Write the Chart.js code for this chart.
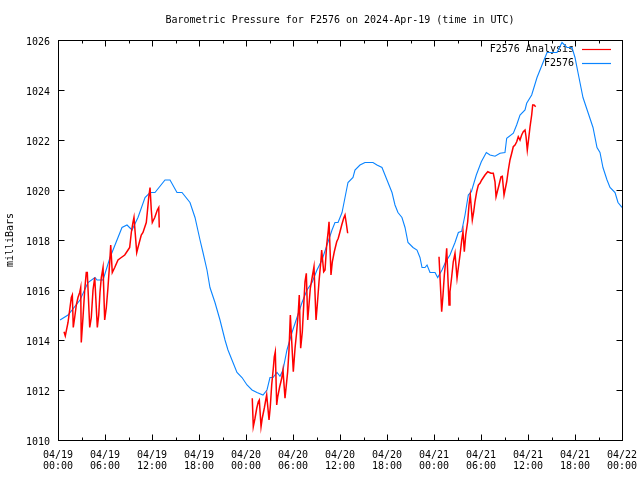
<!DOCTYPE html>
<html>
<head>
<meta charset="utf-8">
<script src="https://cdn.jsdelivr.net/npm/chart.js@4/dist/chart.umd.min.js"></script>
<style>
  html, body { margin: 0; padding: 0; background: #fff; }
  #c { display: block; }
</style>
</head>
<body>
<canvas id="c" width="640" height="480"></canvas>
<script>
// ---- DATA (hours since 2024-04-19 00:00 UTC) ----
const chartTitle = "Barometric Pressure for F2576 on 2024-Apr-19 (time in UTC)";
const yAxisTitle = "milliBars";
const seriesNames = ["F2576 Analysis", "F2576"];

const xTickLabels = [
  ["04/19","00:00"],["04/19","06:00"],["04/19","12:00"],["04/19","18:00"],
  ["04/20","00:00"],["04/20","06:00"],["04/20","12:00"],["04/20","18:00"],
  ["04/21","00:00"],["04/21","06:00"],["04/21","12:00"],["04/21","18:00"],
  ["04/22","00:00"]
];

// F2576 Analysis (red), three segments separated by null gaps
const analysisHours = [
  0.77,0.93,1.28,1.49,1.70,1.83,1.95,2.13,2.34,2.55,2.77,2.90,2.97,3.19,3.41,3.61,3.74,
  4.05,4.25,4.47,4.69,5.02,5.20,5.36,5.53,5.75,5.96,6.17,6.38,6.60,6.73,6.93,7.24,7.66,
  8.08,8.52,8.94,9.15,9.36,9.57,9.70,10.05,10.21,10.63,10.85,11.27,11.40,11.58,11.75,
  11.91,12.04,12.35,12.68,12.86,12.93,
  18.0,
  24.80,24.93,25.15,25.37,25.57,25.70,25.92,26.08,26.34,26.52,26.64,26.94,27.10,27.28,
  27.49,27.61,27.74,27.92,28.05,28.30,28.56,28.72,28.98,29.15,29.32,29.49,29.66,30.04,
  30.26,30.47,30.68,30.80,30.98,31.19,31.37,31.53,31.70,31.88,32.04,32.21,32.46,32.68,
  32.94,33.10,33.32,33.57,33.66,33.92,34.09,34.30,34.51,34.60,34.85,35.02,35.27,35.58,
  35.78,36.00,36.22,36.47,36.64,36.80,36.98,
  42.0,
  48.64,48.89,48.98,49.15,49.32,49.49,49.62,49.92,50.04,50.26,50.46,50.68,50.94,51.10,
  51.32,51.54,51.70,51.87,52.05,52.30,52.47,52.63,52.89,53.07,53.23,53.45,53.66,53.87,
  54.09,54.51,54.86,55.28,55.57,55.79,55.92,56.08,56.30,56.55,56.72,56.94,57.06,57.28,
  57.49,57.70,57.92,58.12,58.34,58.56,58.76,58.98,59.19,59.40,59.62,59.75,59.91,60.04,
  60.26,60.47,60.60,60.77,60.98
];
const analysisValues = [
  1014.33,1014.16,1014.7,1015.2,1015.7,1015.8,1014.5,1014.9,1015.4,1015.7,1015.9,1016.1,1013.9,1014.9,1016.0,1016.7,1016.7,
  1014.5,1014.9,1016.0,1016.5,1014.5,1015.0,1015.9,1016.5,1016.9,1014.8,1015.3,1016.1,1017.1,1017.8,1016.7,1016.9,1017.2,
  1017.3,1017.4,1017.6,1017.7,1018.3,1018.7,1018.9,1017.5,1017.7,1018.2,1018.3,1018.7,1019.1,1019.7,1020.1,
  1019.2,1018.7,1018.9,1019.2,1019.3,1018.5,
  null,
  1011.67,1010.53,1010.87,1011.27,1011.53,1011.6,1010.53,1010.88,1011.28,1011.6,1011.8,1010.8,1011.33,1012.2,
  1012.88,1013.33,1013.53,1011.4,1011.73,1012.13,1012.47,1012.8,1011.67,1012.2,1012.73,1013.6,1015.0,1012.73,
  1013.67,1014.33,1015.13,1015.8,1013.67,1014.33,1015.4,1016.33,1016.67,1014.8,1015.4,1016.07,1016.53,1016.93,
  1014.8,1015.4,1016.33,1017.2,1017.6,1016.73,1016.8,1017.8,1018.4,1018.73,1016.6,1017.13,1017.53,1017.93,
  1018.07,1018.33,1018.6,1018.87,1019.0,1018.67,1018.27,
  null,
  1017.33,1015.73,1015.13,1015.8,1016.6,1017.13,1017.67,1015.4,1015.93,1016.53,1017.13,1017.47,1016.47,1016.87,
  1017.4,1018.0,1018.33,1017.53,1018.2,1018.73,1019.4,1019.8,1018.8,1019.13,1019.53,1019.93,1020.2,1020.27,
  1020.4,1020.6,1020.73,1020.67,1020.67,1020.33,1019.73,1019.93,1020.2,1020.53,1020.55,1019.8,1019.8,1020.33,
  1020.8,1021.2,1021.47,1021.73,1021.8,1021.93,1022.13,1022.0,1022.2,1022.33,1022.4,1022.13,1021.6,1021.93,
  1022.53,1023.0,1023.4,1023.4,1023.33
];

// F2576 (blue)
const stationHours = [
  0.26,1.28,2.81,3.83,4.72,4.98,5.75,6.64,8.17,8.81,9.45,10.21,11.11,11.75,12.38,13.66,14.30,
  15.19,15.83,16.85,17.49,18.13,18.51,19.02,19.40,20.04,20.68,21.32,21.70,22.21,22.85,23.49,
  24.13,24.77,25.40,26.17,26.68,27.06,27.45,27.96,28.34,28.72,29.23,29.87,30.51,31.15,31.79,
  32.43,33.06,33.70,34.34,34.98,35.36,35.75,36.26,36.64,37.02,37.66,37.91,38.55,39.19,40.21,
  40.72,41.36,42.00,42.64,43.02,43.40,43.91,44.30,44.68,45.32,45.83,46.21,46.47,46.85,47.11,
  47.49,48.13,48.47,49.02,49.45,50.04,50.68,51.11,51.53,51.96,52.38,52.77,53.40,54.04,54.68,
  55.15,55.79,56.43,57.06,57.28,58.13,58.55,58.98,59.62,59.83,60.47,61.15,61.79,62.43,63.70,
  64.34,64.98,65.62,66.00,66.38,67.02,67.66,68.30,68.81,69.19,69.57,70.09,70.47,71.11,71.49,72.00
];
const stationValues = [
  1014.8,1015.0,1015.6,1016.3,1016.5,1016.4,1016.4,1017.3,1018.5,1018.6,1018.4,1018.9,1019.7,1019.9,1019.9,1020.4,1020.4,
  1019.9,1019.9,1019.5,1018.9,1018.0,1017.5,1016.8,1016.1,1015.5,1014.8,1014.0,1013.6,1013.2,1012.7,1012.5,
  1012.2,1012.0,1011.9,1011.8,1012.0,1012.5,1012.5,1012.7,1012.55,1012.8,1013.6,1014.3,1014.9,1015.5,1016.0,
  1016.3,1016.8,1017.2,1017.8,1018.4,1018.7,1018.7,1019.1,1019.7,1020.3,1020.5,1020.8,1021.0,1021.1,1021.1,
  1021.0,1020.9,1020.4,1019.9,1019.4,1019.1,1018.9,1018.5,1017.9,1017.7,1017.6,1017.3,1016.9,1016.9,1017.0,
  1016.7,1016.7,1016.5,1016.8,1017.1,1017.4,1017.9,1018.3,1018.35,1019.0,1019.8,1019.93,1020.6,1021.13,1021.5,
  1021.4,1021.35,1021.47,1021.5,1022.07,1022.27,1022.6,1023.0,1023.2,1023.47,1023.8,1024.5,1025.0,1025.5,1025.5,
  1025.9,1025.7,1025.7,1025.3,1024.7,1023.7,1023.1,1022.5,1021.7,1021.5,1020.9,1020.4,1020.1,1019.9,1019.5,1019.3
];

const yMin = 1010, yMax = 1026, yStep = 2;
const xMin = 0, xMax = 72, xStep = 6;

// ---- build chart ----
const FONT = "'DejaVu Sans Mono', 'Liberation Mono', monospace";
const toPts = (xs, ys) => xs.map((x, i) => ({ x: x, y: ys[i] }));

const titlePlugin = {
  id: 'plotTitle',
  afterDraw(chart) {
    const { ctx, chartArea: a } = chart;
    ctx.save();
    ctx.font = "10px " + FONT;
    ctx.fillStyle = '#000';
    ctx.textAlign = 'center';
    ctx.textBaseline = 'middle';
    ctx.fillText(chartTitle, (a.left + a.right) / 2, 20);
    ctx.restore();
  }
};

const framePlugin = {
  id: 'frame',
  afterDatasetsDraw(chart) {
    const { ctx, chartArea: a, scales } = chart;
    const xs = scales.x, ys = scales.y;
    ctx.save();
    ctx.strokeStyle = '#000';
    ctx.lineWidth = 1;
    const L = Math.round(a.left) + 0.5, R = Math.round(a.right) + 0.5;
    const T = Math.round(a.top) + 0.5, B = Math.round(a.bottom) + 0.5;
    ctx.strokeRect(L, T, R - L, B - T);
    ctx.beginPath();
    for (let v = xMin; v <= xMax + 1e-9; v += xStep / 2) {
      const major = Math.abs((v / xStep) - Math.round(v / xStep)) < 1e-6;
      const len = major ? 6 : 3;
      const px = Math.round(xs.getPixelForValue(v)) + 0.5;
      ctx.moveTo(px, B); ctx.lineTo(px, B - len);
      ctx.moveTo(px, T); ctx.lineTo(px, T + len);
    }
    ys.ticks.forEach(t => {
      const py = Math.round(ys.getPixelForValue(t.value)) + 0.5;
      ctx.moveTo(L, py); ctx.lineTo(L + 6, py);
      ctx.moveTo(R, py); ctx.lineTo(R - 6, py);
    });
    ctx.stroke();
    ctx.restore();
  }
};

const keyPlugin = {
  id: 'key',
  beforeDatasetsDraw(chart) {
    const { ctx, chartArea: a } = chart;
    ctx.save();
    ctx.font = "10px " + FONT;
    ctx.textAlign = 'right';
    ctx.textBaseline = 'middle';
    chart.data.datasets.forEach((ds, i) => {
      const y = Math.round(a.top + 9 + i * 14) + 0.5;
      ctx.fillStyle = '#000';
      ctx.fillText(ds.label, a.right - 48, y);
      ctx.strokeStyle = ds.borderColor;
      ctx.lineWidth = 1.2;
      ctx.beginPath();
      ctx.moveTo(a.right - 40, y);
      ctx.lineTo(a.right - 11, y);
      ctx.stroke();
    });
    ctx.restore();
  }
};

new Chart(document.getElementById('c'), {
  type: 'line',
  data: {
    datasets: [
      {
        label: seriesNames[0],
        data: toPts(analysisHours, analysisValues),
        borderColor: '#ff0000',
        borderWidth: 1.5,
        pointRadius: 0,
        tension: 0,
        spanGaps: false,
        fill: false
      },
      {
        label: seriesNames[1],
        data: toPts(stationHours, stationValues),
        borderColor: '#0a84ff',
        borderWidth: 1.1,
        pointRadius: 0,
        tension: 0,
        fill: false
      }
    ]
  },
  options: {
    responsive: false,
    animation: false,
    devicePixelRatio: 1,
    layout: { padding: { left: 0, right: 18, top: 40, bottom: 0 } },
    plugins: {
      legend: { display: false },
      tooltip: { enabled: false },
      title: { display: false }
    },
    scales: {
      x: {
        type: 'linear',
        min: xMin, max: xMax,
        grid: { display: false, drawTicks: false },
        border: { display: false },
        ticks: {
          stepSize: xStep,
          autoSkip: false,
          maxRotation: 0,
          minRotation: 0,
          padding: 10,
          color: '#000',
          font: { family: FONT, size: 10, lineHeight: '11px' },
          callback: (v) => xTickLabels[Math.round((v - xMin) / xStep)]
        },
        afterFit: (s) => { s.height = 40; s.paddingLeft = 0; s.paddingRight = 0; }
      },
      y: {
        type: 'linear',
        min: yMin, max: yMax,
        grid: { display: false, drawTicks: false },
        border: { display: false },
        ticks: {
          stepSize: yStep,
          padding: 8,
          labelOffset: 2,
          color: '#000',
          font: { family: FONT, size: 10 },
          callback: (v) => String(v)
        },
        title: {
          display: true,
          text: yAxisTitle,
          color: '#000',
          font: { family: FONT, size: 10 },
          padding: { top: 4, bottom: 0 }
        },
        afterFit: (s) => { s.width = 58; s.paddingTop = 0; s.paddingBottom = 0; }
      }
    }
  },
  plugins: [keyPlugin, framePlugin, titlePlugin]
});
</script>
</body>
</html>
